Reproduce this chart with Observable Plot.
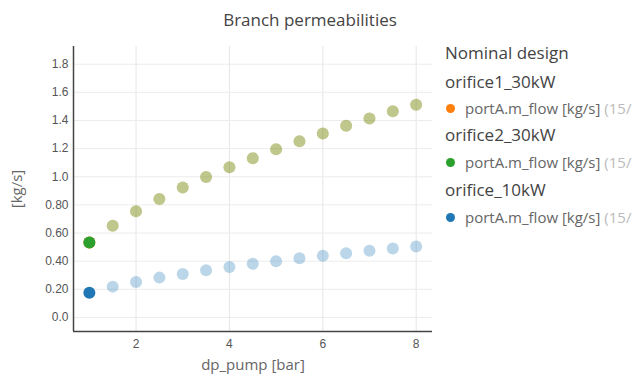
<!DOCTYPE html>
<html><head><meta charset="utf-8">
<script src="https://cdn.jsdelivr.net/npm/d3@7"></script>
<script src="https://cdn.jsdelivr.net/npm/@observablehq/plot@0.6"></script>
<style>
body{margin:0;background:#fff;font-family:"Open Sans",sans-serif;}
#wrap{position:relative;width:637px;height:376px;overflow:hidden;}
#title{position:absolute;left:0;width:620px;top:8px;text-align:center;font-size:17px;color:#444;}
#chart{position:absolute;left:0;top:0;}
#legend{position:absolute;left:445px;top:0;white-space:nowrap;color:#444;}
.h{position:absolute;left:0;font-size:17px;}
.it{position:absolute;left:0;font-size:15px;color:#666;}
.it .d{display:inline-block;width:9px;height:9px;border-radius:50%;margin-left:1px;margin-right:10px;vertical-align:1px;}
.it .g{color:#bbb;}
</style></head>
<body><div id="wrap"><div id="chart"></div><div id="title">Branch permeabilities</div><div id="legend"></div></div>
<script>
const dp = [1, 1.5, 2, 2.5, 3, 3.5, 4, 4.5, 5, 5.5, 6, 6.5, 7, 7.5, 8];
const orifice1_30kW = [0.533, 0.652, 0.754, 0.842, 0.923, 0.999, 1.068, 1.132, 1.196, 1.253, 1.308, 1.362, 1.415, 1.465, 1.512];
const orifice2_30kW = [0.533, 0.652, 0.754, 0.842, 0.923, 0.999, 1.068, 1.132, 1.196, 1.253, 1.308, 1.362, 1.415, 1.465, 1.512];
const orifice_10kW = [0.176, 0.219, 0.252, 0.283, 0.309, 0.335, 0.359, 0.381, 0.400, 0.421, 0.438, 0.456, 0.474, 0.490, 0.504];
const seriesNames = ["orifice1_30kW", "orifice2_30kW", "orifice_10kW"];
const seriesColors = ["#ff7f0e", "#2ca02c", "#1f77b4"];
const legendItemLabel = "portA.m_flow [kg/s]";
const legendItemSuffix = "(15/";
const selectedDp = 1;
const yTicks = [0, 0.2, 0.4, 0.6, 0.8, 1.0, 1.2, 1.4, 1.6, 1.8];
const yTickLabels = ["0.0", "0.20", "0.40", "0.60", "0.80", "1.0", "1.2", "1.4", "1.6", "1.8"];
const xTicks = [2, 4, 6, 8];

const allVals = [orifice1_30kW, orifice2_30kW, orifice_10kW];
const rows = [];
seriesNames.forEach((s, i) => dp.forEach((x, j) => rows.push({series: s, x, y: allVals[i][j]})));
const colorOf = Object.fromEntries(seriesNames.map((s, i) => [s, seriesColors[i]]));

const marks = [
  Plot.gridX(xTicks, {stroke: "#e6e6e6", strokeOpacity: 1}),
  Plot.gridY(yTicks, {stroke: "#ececec", strokeOpacity: 1}),
  Plot.axisY({ticks: yTicks, tickSize: 0, tickPadding: 5, tickFormat: d => yTickLabels[yTicks.indexOf(d)], fontSize: 12, fill: "#555", label: "[kg/s]", labelAnchor: "center", labelArrow: "none", labelOffset: 62}),
  Plot.axisX({ticks: xTicks, tickSize: 0, tickPadding: 8, fontSize: 12, fill: "#555", label: "dp_pump [bar]", labelAnchor: "center", labelArrow: "none", labelOffset: 38})
];
seriesNames.forEach(s => {
  marks.push(Plot.dot(rows.filter(r => r.series === s && r.x !== selectedDp), {x: "x", y: "y", r: 6, fill: colorOf[s], fillOpacity: 0.3, stroke: "none"}));
});
seriesNames.forEach(s => {
  marks.push(Plot.dot(rows.filter(r => r.series === s && r.x === selectedDp), {x: "x", y: "y", r: 6, fill: colorOf[s], stroke: "none"}));
});
marks.push(Plot.ruleX([0.66], {y1: -0.1, y2: 1.926, stroke: "#444", strokeWidth: 1.5}));
marks.push(Plot.ruleY([-0.1], {x1: 0.66, x2: 8.35, stroke: "#444", strokeWidth: 1.5}));

const chart = Plot.plot({
  width: 440, height: 376,
  marginLeft: 73, marginRight: 8, marginTop: 46, marginBottom: 45,
  style: {fontFamily: "'Liberation Sans', Arial, sans-serif", color: "#666", fontSize: "14px", background: "#fff"},
  x: {domain: [0.66, 8.35]},
  y: {domain: [-0.1, 1.926]},
  marks
});
chart.querySelectorAll("[aria-label='x-axis label'] text, [aria-label='y-axis label'] text").forEach(t => { t.setAttribute("font-family", "'Open Sans', sans-serif"); t.setAttribute("font-size", "15"); t.setAttribute("fill", "#666"); });
document.getElementById("chart").appendChild(chart);

const legend = document.getElementById("legend");
const head = document.createElement("div");
head.className = "h"; head.style.top = "41px"; head.textContent = "Nominal design";
legend.appendChild(head);
const hTops = [70, 123, 178];
const iTops = [98, 152, 207];
seriesNames.forEach((s, i) => {
  const h = document.createElement("div");
  h.className = "h"; h.style.top = hTops[i] + "px"; h.textContent = s;
  legend.appendChild(h);
  const it = document.createElement("div");
  it.className = "it"; it.style.top = iTops[i] + "px";
  it.innerHTML = `<span class="d" style="background:${seriesColors[i]}"></span>${legendItemLabel} <span class="g">${legendItemSuffix}</span>`;
  legend.appendChild(it);
});
</script></body></html>
